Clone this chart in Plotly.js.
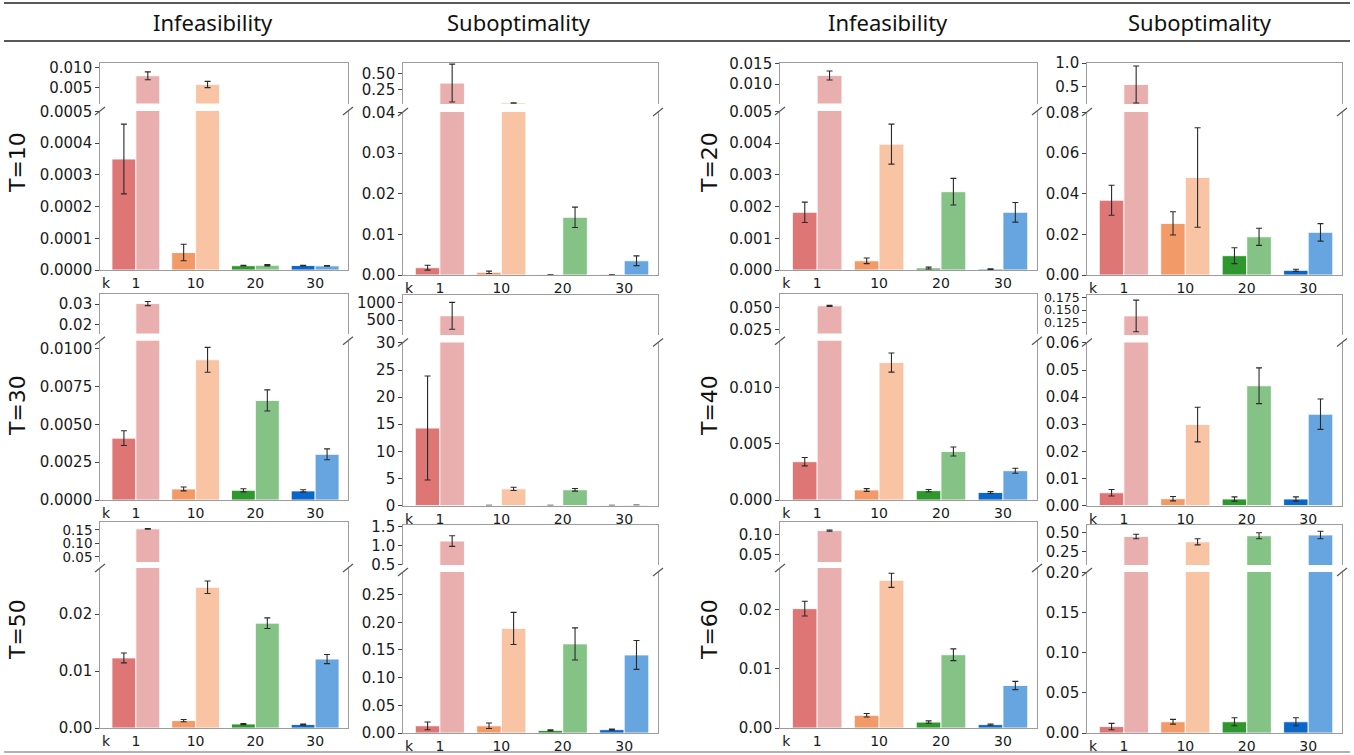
<!DOCTYPE html>
<html><head><meta charset="utf-8">
<script src="https://cdn.plot.ly/plotly-3.0.1.min.js"></script>
<style>html,body{margin:0;padding:0;background:#fff;}#chart{width:1354px;height:755px;}</style>
</head><body><div id="chart"></div>
<script>
// ---------- data ----------
const kLabels = ['k', '1', '10', '20', '30'];
const kPositions = [0, 1, 2, 3];
const columnHeaders = ['Infeasibility', 'Suboptimality', 'Infeasibility', 'Suboptimality'];
const rowLabels = ['T=10', 'T=20', 'T=30', 'T=40', 'T=50', 'T=60'];

const darkColors  = ['#dd7674', '#f39b68', '#2e972e', '#0b66c9'];
const lightColors = ['#e9aeae', '#f8c4a4', '#85c286', '#66a5e0'];

// T=10
const inf10Dark = [0.00035, 0.000055, 0.0000135, 0.000014];
const inf10DarkErr = [0.00011, 0.000026, 0.000001, 0.000001];
const inf10Light = [0.0080, 0.0058, 0.000015, 0.000013];
const inf10LightErr = [0.0010, 0.0008, 0.000002, 0.000001];
const sub10Dark = [0.0018, 0.00066, 0.00005, 0.00005];
const sub10DarkErr = [0.0006, 0.0003, 0, 0];
const sub10Light = [0.35, 0.045, 0.0142, 0.0035];
const sub10LightErr = [0.29, 0.002, 0.0025, 0.0012];
// T=20
const inf20Dark = [0.00182, 0.00029, 0.00006, 0.00003];
const inf20DarkErr = [0.00032, 0.00009, 0.00003, 0.00001];
const inf20Light = [0.0121, 0.00397, 0.00247, 0.00182];
const inf20LightErr = [0.0011, 0.00063, 0.00042, 0.00031];
const sub20Dark = [0.0368, 0.0254, 0.0095, 0.0023];
const sub20DarkErr = [0.0074, 0.0057, 0.0039, 0.0005];
const sub20Light = [0.55, 0.048, 0.0188, 0.021];
const sub20LightErr = [0.39, 0.0245, 0.0042, 0.0043];
// T=30
const inf30Dark = [0.00409, 0.00073, 0.00064, 0.0006];
const inf30DarkErr = [0.00049, 0.00013, 0.0001, 0.00008];
const inf30Light = [0.0303, 0.00927, 0.00658, 0.00302];
const inf30LightErr = [0.001, 0.00082, 0.0007, 0.00036];
const sub30Dark = [14.3, 0.05, 0.05, 0.05];
const sub30DarkErr = [9.6, 0, 0, 0];
const sub30Light = [620, 3.07, 2.9, 0.08];
const sub30LightErr = [380, 0.3, 0.25, 0];
// T=40
const inf40Dark = [0.0034, 0.00089, 0.00083, 0.00067];
const inf40DarkErr = [0.00037, 0.00012, 0.0001, 0.00008];
const inf40Light = [0.0518, 0.0122, 0.0043, 0.0026];
const inf40LightErr = [0.0007, 0.00085, 0.0004, 0.00022];
const sub40Dark = [0.0047, 0.0025, 0.0024, 0.0024];
const sub40DarkErr = [0.0012, 0.0008, 0.0008, 0.0008];
const sub40Light = [0.1385, 0.0299, 0.0442, 0.0337];
const sub40LightErr = [0.031, 0.0064, 0.0066, 0.0056];
// T=50
const inf50Dark = [0.0123, 0.0013, 0.0007, 0.0006];
const inf50DarkErr = [0.00087, 0.0002, 0.0001, 0.0001];
const inf50Light = [0.154, 0.0247, 0.0184, 0.0121];
const inf50LightErr = [0.001, 0.0011, 0.00093, 0.0008];
const sub50Dark = [0.013, 0.013, 0.0047, 0.006];
const sub50DarkErr = [0.007, 0.005, 0.001, 0.001];
const sub50Light = [1.12, 0.189, 0.161, 0.141];
const sub50LightErr = [0.14, 0.029, 0.029, 0.026];
// T=60
const inf60Dark = [0.0202, 0.00215, 0.001, 0.00057];
const inf60DarkErr = [0.00125, 0.0003, 0.0002, 0.0001];
const inf60Light = [0.109, 0.025, 0.0124, 0.0072];
const inf60LightErr = [0.0015, 0.0012, 0.001, 0.0007];
const sub60Dark = [0.008, 0.014, 0.014, 0.014];
const sub60DarkErr = [0.004, 0.003, 0.005, 0.005];
const sub60Light = [0.45, 0.38, 0.46, 0.47];
const sub60LightErr = [0.03, 0.04, 0.04, 0.05];

// y tick values (bottom part / top part of each broken axis)
const inf10TicksLow = [0, 0.0001, 0.0002, 0.0003, 0.0004, 0.0005], inf10TicksHigh = [0.005, 0.010];
const sub10TicksLow = [0, 0.01, 0.02, 0.03, 0.04], sub10TicksHigh = [0.25, 0.50];
const inf20TicksLow = [0, 0.001, 0.002, 0.003, 0.004, 0.005], inf20TicksHigh = [0.010, 0.015];
const sub20TicksLow = [0, 0.02, 0.04, 0.06, 0.08], sub20TicksHigh = [0.5, 1.0];
const inf30TicksLow = [0, 0.0025, 0.005, 0.0075, 0.01], inf30TicksHigh = [0.02, 0.03];
const sub30TicksLow = [0, 5, 10, 15, 20, 25, 30], sub30TicksHigh = [500, 1000];
const inf40TicksLow = [0, 0.005, 0.010], inf40TicksHigh = [0.025, 0.050];
const sub40TicksLow = [0, 0.01, 0.02, 0.03, 0.04, 0.05, 0.06], sub40TicksHigh = [0.125, 0.150, 0.175];
const inf50TicksLow = [0, 0.01, 0.02], inf50TicksHigh = [0.05, 0.10, 0.15];
const sub50TicksLow = [0, 0.05, 0.10, 0.15, 0.20, 0.25], sub50TicksHigh = [0.5, 1.0, 1.5];
const inf60TicksLow = [0, 0.01, 0.02], inf60TicksHigh = [0.05, 0.10];
const sub60TicksLow = [0, 0.05, 0.10, 0.15, 0.20], sub60TicksHigh = [0.25, 0.50];

// ---------- layout helpers ----------
const W = 1354, H = 755;
const px = p => p / W;
const py = p => 1 - p / H;

const colX = [[100, 348], [403, 658], [780, 1037], [1087, 1342]];
const rowYInf = [[63, 103.5, 111, 270], [294, 333.5, 340.7, 500], [522, 562, 568, 728]];
const rowYSub = [[63, 104, 112, 275], [295, 335, 342.5, 505.5], [525, 565, 572, 733]];

const panels = [
  {col:0,row:0,kind:'inf',d:inf10Dark,de:inf10DarkErr,l:inf10Light,le:inf10LightErr,tl:inf10TicksLow,th:inf10TicksHigh,dl:4,dh:3,rl:[0,0.0005],rh:[0.001,0.0112]},
  {col:1,row:0,kind:'sub',d:sub10Dark,de:sub10DarkErr,l:sub10Light,le:sub10LightErr,tl:sub10TicksLow,th:sub10TicksHigh,dl:2,dh:2,rl:[0,0.04],rh:[0.03,0.656]},
  {col:2,row:0,kind:'inf',d:inf20Dark,de:inf20DarkErr,l:inf20Light,le:inf20LightErr,tl:inf20TicksLow,th:inf20TicksHigh,dl:3,dh:3,rl:[0,0.005],rh:[0.0053,0.0151]},
  {col:3,row:0,kind:'sub',d:sub20Dark,de:sub20DarkErr,l:sub20Light,le:sub20LightErr,tl:sub20TicksLow,th:sub20TicksHigh,dl:2,dh:1,rl:[0,0.08],rh:[0.14,1.0]},
  {col:0,row:1,kind:'inf',d:inf30Dark,de:inf30DarkErr,l:inf30Light,le:inf30LightErr,tl:inf30TicksLow,th:inf30TicksHigh,dl:4,dh:2,rl:[0,0.0105],rh:[0.0157,0.0349]},
  {col:1,row:1,kind:'sub',d:sub30Dark,de:sub30DarkErr,l:sub30Light,le:sub30LightErr,tl:sub30TicksLow,th:sub30TicksHigh,dl:0,dh:0,rl:[0,30],rh:[76,1206]},
  {col:2,row:1,kind:'inf',d:inf40Dark,de:inf40DarkErr,l:inf40Light,le:inf40LightErr,tl:inf40TicksLow,th:inf40TicksHigh,dl:3,dh:3,rl:[0,0.0141],rh:[0.0205,0.065]},
  {col:3,row:1,kind:'sub',d:sub40Dark,de:sub40DarkErr,l:sub40Light,le:sub40LightErr,tl:sub40TicksLow,th:sub40TicksHigh,dl:2,dh:3,rl:[0,0.06],rh:[0.101,0.1794],hs:12.5},
  {col:0,row:2,kind:'inf',d:inf50Dark,de:inf50DarkErr,l:inf50Light,le:inf50LightErr,tl:inf50TicksLow,th:inf50TicksHigh,dl:2,dh:2,rl:[0,0.028],rh:[0.031,0.179],hs:13.5},
  {col:1,row:2,kind:'sub',d:sub50Dark,de:sub50DarkErr,l:sub50Light,le:sub50LightErr,tl:sub50TicksLow,th:sub50TicksHigh,dl:2,dh:1,rl:[0,0.29],rh:[0.49,1.54]},
  {col:2,row:2,kind:'inf',d:inf60Dark,de:inf60DarkErr,l:inf60Light,le:inf60LightErr,tl:inf60TicksLow,th:inf60TicksHigh,dl:2,dh:2,rl:[0,0.027],rh:[0.0315,0.13]},
  {col:3,row:2,kind:'sub',d:sub60Dark,de:sub60DarkErr,l:sub60Light,le:sub60LightErr,tl:sub60TicksLow,th:sub60TicksHigh,dl:2,dh:2,rl:[0,0.2],rh:[0.075,0.6]}
];

const FONT = '"DejaVu Sans", Verdana, sans-serif';
const SPINE = '#9c9c9c';
const yTickSize = 15;
const xTickSize = 14;
const xRange = [-0.6, 3.55];

const traces = [];
const layout = {
  width: W, height: H, margin: {l:0, r:0, t:0, b:0},
  paper_bgcolor: '#fff', plot_bgcolor: 'rgba(0,0,0,0)',
  showlegend: false, barmode: 'overlay',
  annotations: [], shapes: []
};

function pad(r){ const s = (r[1]-r[0])*0.003; return [r[0], r[1]+s]; }

panels.forEach((p, i) => {
  const g = (p.kind === 'inf' ? rowYInf : rowYSub)[p.row];
  const xd = [px(colX[p.col][0]), px(colX[p.col][1])];
  const lowIdx = 2*i + 1, highIdx = 2*i + 2;
  [[lowIdx, p.rl, p.tl, p.dl, [py(g[3]), py(g[2])], true],
   [highIdx, p.rh, p.th, p.dh, [py(g[1]), py(g[0])], false]].forEach(([idx, yr, tv, dec, yd, isLow]) => {
    const xn = 'x' + (idx === 1 ? '' : idx), yn = 'y' + (idx === 1 ? '' : idx);
    const xk = 'xaxis' + (idx === 1 ? '' : idx), yk = 'yaxis' + (idx === 1 ? '' : idx);
    const fs = (!isLow && p.hs) ? p.hs : yTickSize;
    layout[xk] = {
      domain: xd, anchor: yn, range: xRange, fixedrange: true,
      side: isLow ? 'bottom' : 'top',
      showline: true, linecolor: SPINE, linewidth: 1.3,
      showgrid: false, zeroline: false, ticks: '',
      tickmode: 'array', tickvals: [-0.5].concat(kPositions), ticktext: kLabels,
      showticklabels: isLow, tickfont: {family: FONT, size: xTickSize, color: '#1a1a1a'}
    };
    layout[yk] = {
      domain: yd, anchor: xn, range: pad(yr), fixedrange: true,
      showline: true, mirror: true, linecolor: SPINE, linewidth: 1.3,
      showgrid: false, zeroline: false,
      ticks: 'outside', ticklen: 3.5, tickwidth: 1, tickcolor: '#444',
      tickmode: 'array', tickvals: tv, ticktext: tv.map(v => v.toFixed(dec)),
      tickfont: {family: FONT, size: fs, color: '#1a1a1a'}
    };
    traces.push({
      type: 'bar', x: kPositions, y: p.d, xaxis: xn, yaxis: yn,
      width: 0.4, offset: -0.4,
      marker: {color: darkColors, line: {color: 'rgba(255,255,255,0.85)', width: 1}},
      error_y: {type: 'data', array: p.de, visible: true, color: '#2a2a2a', thickness: 1.1, width: 3},
      hoverinfo: 'skip'
    });
    traces.push({
      type: 'bar', x: kPositions, y: p.l, xaxis: xn, yaxis: yn,
      width: 0.4, offset: 0,
      marker: {color: lightColors, line: {color: 'rgba(255,255,255,0.85)', width: 1}},
      error_y: {type: 'data', array: p.le, visible: true, color: '#2a2a2a', thickness: 1.1, width: 3},
      hoverinfo: 'skip'
    });
  });
  // break marks at the top of the lower part
  const yb = g[2];
  [colX[p.col][0], colX[p.col][1]].forEach(xs => {
    layout.shapes.push({type: 'line', xref: 'paper', yref: 'paper',
      x0: px(xs - 5), y0: py(yb + 4), x1: px(xs + 5), y1: py(yb - 4),
      line: {color: '#555', width: 1.2}});
  });
});

// column headers
const headerX = [213, 519, 888, 1200];
columnHeaders.forEach((t, i) => {
  layout.annotations.push({text: t, xref: 'paper', yref: 'paper', x: px(headerX[i]), y: py(22),
    showarrow: false, xanchor: 'center', yanchor: 'middle',
    font: {family: 'Noto Sans', size: 22, color: '#111'}});
});
// row labels
const rowLabelX = [17, 709];
const rowLabelY = [163, 406, 630];
rowLabels.forEach((t, i) => {
  layout.annotations.push({text: t, xref: 'paper', yref: 'paper',
    x: px(rowLabelX[i % 2]), y: py(rowLabelY[Math.floor(i / 2)]),
    showarrow: false, textangle: -90, xanchor: 'center', yanchor: 'middle',
    font: {family: FONT, size: 22, color: '#111'}});
});
// table rules
layout.shapes.push({type:'line', xref:'paper', yref:'paper', x0: px(4), x1: px(1350), y0: py(3), y1: py(3), line:{color:'#222', width:1.5}});
layout.shapes.push({type:'line', xref:'paper', yref:'paper', x0: px(4), x1: px(1350), y0: py(41), y1: py(41), line:{color:'#222', width:1.5}});
layout.shapes.push({type:'line', xref:'paper', yref:'paper', x0: px(4), x1: px(1350), y0: py(752), y1: py(752), line:{color:'#999', width:1.5}});

Plotly.newPlot('chart', traces, layout, {staticPlot: true, displayModeBar: false});
</script></body></html>
